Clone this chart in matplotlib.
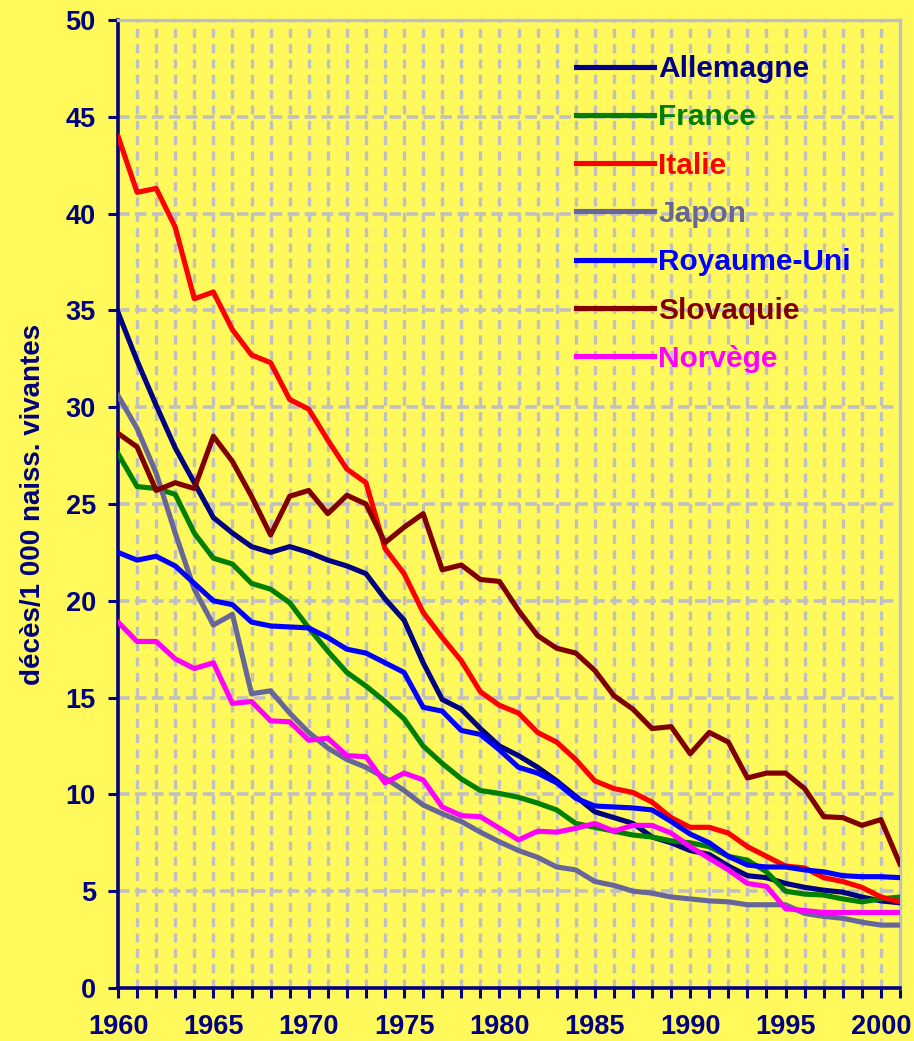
import matplotlib
matplotlib.use("Agg")
import matplotlib.pyplot as plt

# infant mortality, deaths per 1000 live births, 1960-2001
years = list(range(1960, 2002))

allemagne = [
    34.9, 32.4, 30.1, 27.9, 26.1, 24.3, 23.5, 22.8, 22.5, 22.8,
    22.5, 22.1, 21.8, 21.4, 20.1, 19.0, 16.8, 14.9, 14.4, 13.4,
    12.5, 12.0, 11.4, 10.7, 9.9, 9.1, 8.8, 8.5, 7.8, 7.5,
    7.1, 6.9, 6.3, 5.8, 5.7, 5.4, 5.2, 5.05, 4.95, 4.7,
    4.5, 4.4,
]
france = [
    27.6, 25.9, 25.8, 25.5, 23.5, 22.2, 21.9, 20.9, 20.6, 19.9,
    18.6, 17.4, 16.3, 15.6, 14.8, 13.9, 12.5, 11.6, 10.8, 10.2,
    10.05, 9.85, 9.55, 9.2, 8.5, 8.3, 8.1, 7.9, 7.8, 7.6,
    7.5, 7.3, 6.8, 6.6, 6.0, 5.0, 4.85, 4.8, 4.6, 4.45,
    4.6, 4.7,
]
italie = [
    44.0, 41.1, 41.3, 39.3, 35.6, 35.95, 34.0, 32.7, 32.3, 30.4,
    29.9, 28.3, 26.8, 26.1, 22.7, 21.4, 19.4, 18.1, 16.9, 15.3,
    14.6, 14.2, 13.2, 12.7, 11.8, 10.7, 10.3, 10.1, 9.6, 8.8,
    8.3, 8.3, 8.0, 7.3, 6.8, 6.3, 6.2, 5.7, 5.5, 5.2,
    4.7, 4.45,
]
japon = [
    30.6, 28.9, 26.6, 23.5, 20.6, 18.75, 19.3, 15.2, 15.35, 14.2,
    13.2, 12.4, 11.8, 11.4, 10.85, 10.2, 9.45, 9.0, 8.6, 8.05,
    7.55, 7.1, 6.75, 6.25, 6.1, 5.5, 5.3, 5.0, 4.9, 4.7,
    4.6, 4.5, 4.45, 4.3, 4.3, 4.3, 3.85, 3.7, 3.6, 3.4,
    3.25, 3.25,
]
royaume_uni = [
    22.5, 22.1, 22.3, 21.8, 20.9, 20.0, 19.8, 18.9, 18.7, 18.65,
    18.6, 18.1, 17.5, 17.3, 16.8, 16.3, 14.5, 14.3, 13.3, 13.1,
    12.3, 11.4, 11.1, 10.6, 9.8, 9.4, 9.35, 9.3, 9.2, 8.6,
    7.95, 7.5, 6.8, 6.35, 6.25, 6.25, 6.1, 6.0, 5.8, 5.75,
    5.75, 5.7,
]
slovaquie = [
    28.65, 27.95, 25.7, 26.1, 25.8, 28.5, 27.2, 25.4, 23.4, 25.4,
    25.7, 24.5, 25.45, 25.0, 23.0, 23.8, 24.5, 21.6, 21.85, 21.1,
    21.0, 19.5, 18.2, 17.55, 17.3, 16.4, 15.1, 14.4, 13.4, 13.5,
    12.1, 13.2, 12.7, 10.85, 11.1, 11.1, 10.3, 8.85, 8.8, 8.4,
    8.7, 6.4,
]
norvege = [
    18.9, 17.9, 17.9, 17.0, 16.5, 16.8, 14.7, 14.8, 13.8, 13.75,
    12.8, 12.9, 12.0, 11.95, 10.6, 11.1, 10.75, 9.35, 8.9, 8.85,
    8.25, 7.65, 8.1, 8.05, 8.25, 8.5, 8.1, 8.4, 8.4, 8.0,
    7.3, 6.7, 6.1, 5.4, 5.25, 4.1, 4.0, 3.9, 3.9, 3.9,
    3.9, 3.9,
]

series = [
    ("Allemagne", allemagne, "#000080"),
    ("France", france, "#008000"),
    ("Italie", italie, "#FF0000"),
    ("Japon", japon, "#666699"),
    ("Royaume-Uni", royaume_uni, "#0000FF"),
    ("Slovaquie", slovaquie, "#800000"),
    ("Norvège", norvege, "#FF00FF"),
]

navy = "#000080"
yellow = "#FFF95B"
grid = "#C0C0C0"

plt.rcParams["font.family"] = ["Liberation Sans", "DejaVu Sans"]
plt.rcParams["font.weight"] = "bold"

fig = plt.figure(figsize=(9.14, 10.41), dpi=100, facecolor=yellow)
ax = fig.add_axes([118 / 914, 1 - 988 / 1041, (900 - 118) / 914, (988 - 20) / 1041])
ax.set_facecolor(yellow)

# grid: every year vertically, every 5 horizontally
for yr in range(1961, 2001):
    ax.axvline(yr, color=grid, lw=2.4, ls=(0, (2.7, 1.9)), zorder=0)
for v in range(5, 50, 5):
    ax.axhline(v, color=grid, lw=2.6, ls=(0, (3.2, 1.5)), zorder=0)

for name, vals, col in series:
    ax.plot(years, vals, color=col, lw=3.7, label=name, zorder=3)

ax.set_xlim(1960, 2001)
ax.set_ylim(0, 50)
ax.set_xticks(range(1960, 2002))
ax.set_xticklabels([str(y) if y % 5 == 0 else "" for y in range(1960, 2002)])
ax.set_yticks(range(0, 51, 5))

for side in ["left", "bottom"]:
    ax.spines[side].set_color(navy)
    ax.spines[side].set_linewidth(2.6)
for side in ["top", "right"]:
    ax.spines[side].set_color(grid)
    ax.spines[side].set_linewidth(2.4)

ax.tick_params(axis="both", colors=navy, width=2.2, length=7, labelsize=19.5)
ax.tick_params(axis="y", pad=9)
ax.tick_params(axis="x", pad=12)
for lab in ax.get_xticklabels() + ax.get_yticklabels():
    lab.set_fontweight("bold")

ax.set_ylabel("décès/1 000 naiss. vivantes", color=navy, fontsize=20,
              fontweight="bold", labelpad=14)

leg = ax.legend(loc="upper left", bbox_to_anchor=(576 / 914, 1 - 55 / 1041),
                bbox_transform=fig.transFigure, frameon=False, fontsize=21.5,
                handlelength=2.6, handletextpad=0.15, labelspacing=0.68,
                borderpad=0, borderaxespad=0, labelcolor="linecolor")
for t in leg.get_texts():
    t.set_fontweight("bold")

fig.savefig("out.png", dpi=100, facecolor=yellow)
